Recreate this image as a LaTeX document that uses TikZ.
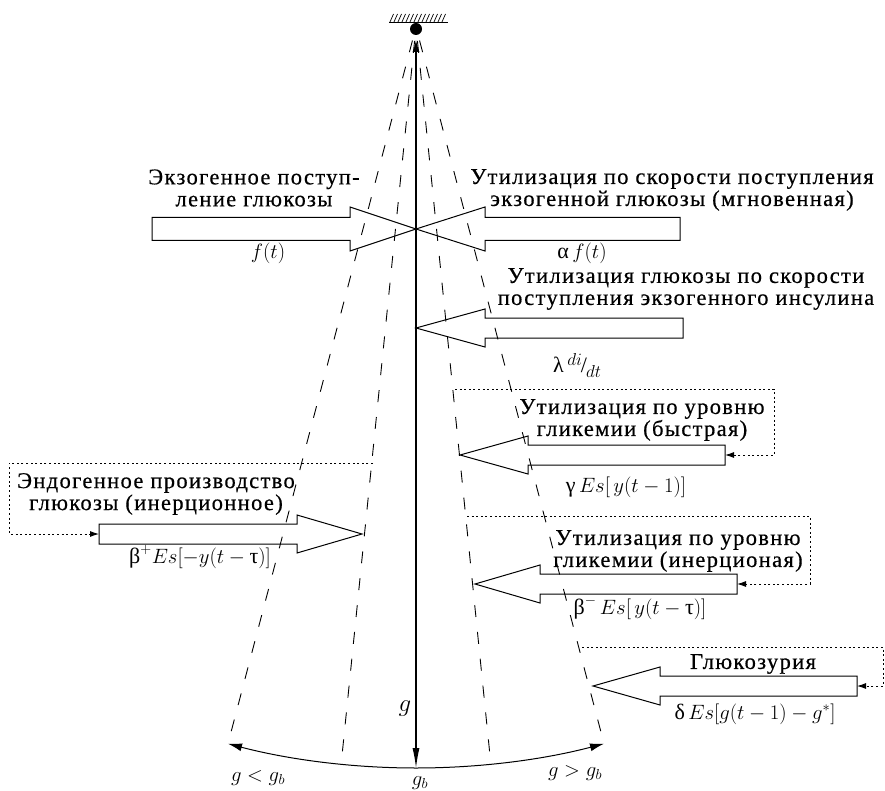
\documentclass[tikz,border=0pt]{standalone}
\usepackage{fontspec}
\setmainfont{Liberation Serif}
\newfontfamily\rufont[LetterSpace=6,FakeBold=0.5]{Liberation Serif}
\usetikzlibrary{arrows.meta,calc}
\newcommand\blockarrow[6]{% tail x, head base x, tip x, y, body half, head half
  \draw[blk] (#1,#4-#5) -- (#2,#4-#5) -- (#2,#4-#6) -- (#3,#4) -- (#2,#4+#6) -- (#2,#4+#5) -- (#1,#4+#5) -- cycle;}
\lineskiplimit=-40pt
\tikzset{
  txt/.style={font=\rufont\fontsize{22.5}{22}\selectfont, align=center, inner sep=0pt},
  mth/.style={font=\fontsize{22}{22}\selectfont, inner sep=0pt},
  blk/.style={draw, line width=1pt, line join=miter},
  fan/.style={dash pattern=on 12pt off 15pt, line width=0.9pt},
  fb/.style={dash pattern=on 2pt off 2.6pt, line width=0.9pt, -{Latex[length=9pt,width=6pt]}},
}
\begin{document}
\begin{tikzpicture}[x=1pt,y=-1pt]
\useasboundingbox (0,0) rectangle (885,791);
% pivot and ceiling
\coordinate (P) at (416,27);
\draw[line width=1pt] (389,23) -- (448,23);
\foreach \x in {390,394,...,444} \draw[line width=0.7pt] (\x,22) -- (\x+3.5,14);
\fill (416,29) circle (6);
% fan of dashed lines
\foreach \a in {14.7,5.8,-5.8,-14.7}
  \draw[fan] ($(P)+(90-\a:14)$) -- ($(P)+(90-\a:741)$);
% vertical g arrow
\coordinate (Btm) at ($(P)+(90:741)$);
\draw[line width=1.1pt, {Latex[length=12pt,width=7pt]}-{Latex[length=20pt,width=7pt]}] (416,40) -- (Btm);
% bottom arc
\draw[line width=1pt, -{Latex[length=14pt,width=8pt]}] (Btm) arc[start angle=90, end angle=104.7, radius=741];
\draw[line width=1pt, -{Latex[length=14pt,width=8pt]}] (Btm) arc[start angle=90, end angle=75.3, radius=741];
% block arrows
\blockarrow{152}{350}{416}{229}{11.5}{22}
\blockarrow{680}{485}{416}{229}{11.5}{22}
\blockarrow{683}{485}{416}{328}{10}{19}
\blockarrow{725}{528}{460}{455}{10}{19}
\blockarrow{99}{297}{362}{534}{10}{19}
\blockarrow{737}{540}{475}{584}{10}{19}
\blockarrow{857}{660}{593}{686}{10}{19}
% arrow tails for feedback
\coordinate (t4) at (725,455);
\coordinate (t5) at (99,534);
\coordinate (t6) at (737,584);
\coordinate (t7) at (857,686);
\coordinate (f4) at (455,389);
\coordinate (f5) at (373,463);
\coordinate (f6) at (467,516);
\coordinate (f7) at (582,647);
\draw[fb] (f4) -- (774,389) -- (774,455) -- (t4);
\draw[fb] (f5) -- (9,463) -- (9,534) -- (t5);
\draw[fb] (f6) -- (810,516) -- (810,584) -- (t6);
\draw[fb] (f7) -- (883,647) -- (883,686) -- (t7);
% texts
\node[txt] (T1) at (254,188) {Экзогенное поступ-\\ление глюкозы};
\node[txt] (T2) at (672,190) {Утилизация по скорости поступления\\экзогенной глюкозы (мгновенная)};
\node[txt] (T3) at (686,289) {Утилизация глюкозы по скорости\\поступления экзогенного инсулина};
\node[txt] (T4) at (642,420) {Утилизация по уровню\\гликемии (быстрая)};
\node[txt] (T5) at (156,494) {Эндогенное производство\\глюкозы (инерционное)};
\node[txt] (T6) at (678,551) {Утилизация по уровню\\гликемии (инерционая)};
\node[txt] (T7) at (753,664) {Глюкозурия};
% formula labels
\node[mth] (L1) at (268,253) {$f(t)$};
\node[mth] (L2) at (582,253) {$\mbox{α}\,f(t)$};
\node[mth] (L3) at (577,365) {λ\,\raisebox{7pt}{\fontsize{16}{16}\selectfont$di$}\kern-1pt/\kern-1pt\raisebox{-5pt}{\fontsize{16}{16}\selectfont$dt$}};
\node[mth] (L4) at (626,487) {$\mbox{γ}\,Es\Bigl[\,y(t-1)\Bigr]$};
\node[mth] (L5) at (200,557) {$\mbox{β}^{+}Es\Bigl[-y(t-\mbox{τ})\Bigr]$};
\node[mth] (L6) at (640,608) {$\mbox{β}^{-}\,Es\Bigl[\,y(t-\mbox{τ})\Bigr]$};
\node[mth] (L7) at (755,714) {$\mbox{δ}\,Es\Bigl[g(t-1)-g^{*}\Bigr]$};
\node[inner sep=0pt, font=\fontsize{30}{30}\selectfont] (G) at (405,709) {$g$};
\node[mth] (Gb) at (420,783) {$g_b$};
\node[mth] (Gl) at (258,778) {$g<g_b$};
\node[mth] (Gg) at (575,773) {$g>g_b$};
\end{tikzpicture}
\end{document}
